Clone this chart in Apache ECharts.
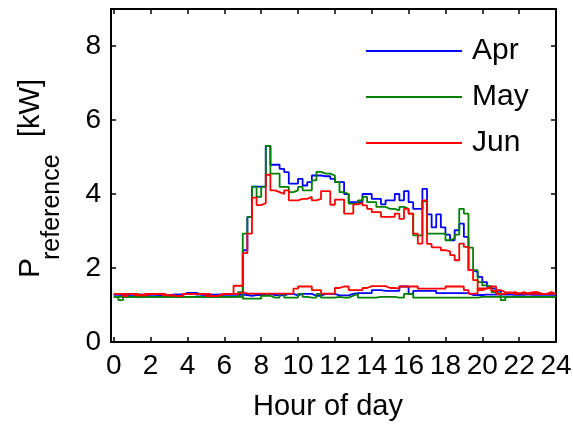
<!DOCTYPE html>
<html>
<head>
<meta charset="utf-8">
<script src="https://cdn.jsdelivr.net/npm/echarts@6/dist/echarts.min.js"></script>
<style>
html,body{margin:0;padding:0;background:#fff;}
#chart{width:573px;height:427px;}
</style>
</head>
<body>
<div id="chart"></div>
<script>
// Quarter-hour profiles (96 values, 00:00 .. 23:45), kW
const months = ['Apr', 'May', 'Jun'];
const xTicks = [0, 2, 4, 6, 8, 10, 12, 14, 16, 18, 20, 22, 24];
const yTicks = [0, 2, 4, 6, 8];

const aprHigh = [1.28,1.28,1.27,1.28,1.28,1.28,1.27,1.28, 1.28,1.28,1.26,1.26,1.28,1.28,1.28,1.33,
  1.33,1.28,1.28,1.27,1.27,1.28,1.28,1.28, 1.28,1.28,1.28,1.28,
  2.48,3.38,4.2,4.2, 4.2,5.3,4.79,4.79, 4.68,4.59,4.28,4.28, 4.41,4.23,4.32,4.5,
  4.5,4.48,4.48,4.41, 4.32,4.32,4.0,3.78, 3.78,3.78,4.0,4.0, 3.87,3.87,3.72,3.83,
  3.83,4.0,3.83,4.08, 3.78,3.6,3.6,4.14, 3.45,3.1,3.45,3.1, 2.9,2.75,3.02,3.2,
  2.84,1.94,1.89,1.76, 1.62,1.5,1.44,1.38, 1.3,1.3,1.28,1.28, 1.28,1.3,1.28,1.28,
  1.28,1.28,1.28,1.28];
const aprLow = [1.28,1.27,1.28,1.28,1.27,1.28,1.28,1.28, 1.28,1.27,1.28,1.26,1.28,1.28,1.28,1.3,
  1.33,1.33,1.28,1.28,1.28,1.27,1.28,1.28, 1.28,1.28,1.28,1.28,
  1.27,1.25,1.27,1.27, 1.3,1.3,1.27,1.26, 1.26,1.3,1.3,1.26, 1.3,1.3,1.3,1.25,
  1.25,1.3,1.3,1.3, 1.26,1.26,1.26,1.3, 1.32,1.32,1.32,1.32, 1.4,1.4,1.38,1.38,
  1.38,1.38,1.5,1.5, 1.3,1.38,1.38,1.38, 1.38,1.38,1.32,1.32, 1.32,1.32,1.32,1.32,
  1.32,1.27,1.27,1.27, 1.28,1.28,1.28,1.28, 1.28,1.28,1.28,1.28, 1.28,1.28,1.28,1.28,
  1.28,1.28,1.28,1.28];

const mayHigh = [1.22,1.13,1.22,1.22,1.22,1.22,1.22,1.22, 1.22,1.22,1.22,1.22,1.22,1.22,1.22,1.22,
  1.22,1.22,1.22,1.22,1.22,1.22,1.22,1.22, 1.22,1.22,1.22,1.22,
  2.93,3.38,4.2,3.92, 4.19,5.3,4.55,4.55, 4.19,4.19,4.05,4.1, 4.19,4.1,4.1,4.37,
  4.6,4.55,4.55,4.5, 4.32,4.05,4.0,3.74, 3.74,3.83,3.92,3.78, 3.78,3.65,3.65,3.6,
  3.6,3.56,3.65,3.6, 3.47,2.88,2.88,3.8, 2.93,2.93,2.93,2.93, 2.75,2.8,2.9,3.6,
  3.47,2.55,1.94,1.62, 1.53,1.49,1.35,1.3, 1.13,1.22,1.22,1.22, 1.22,1.22,1.22,1.22,
  1.22,1.22,1.22,1.22];
const mayLow = [1.22,1.22,1.22,1.22,1.22,1.22,1.22,1.22, 1.22,1.22,1.22,1.22,1.22,1.22,1.22,1.22,
  1.22,1.22,1.22,1.22,1.22,1.22,1.22,1.22, 1.22,1.22,1.22,1.35,
  1.17,1.17,1.17,1.17, 1.25,1.25,1.2,1.2, 1.3,1.2,1.2,1.2, 1.3,1.22,1.2,1.2,
  1.3,1.2,1.2,1.2, 1.22,1.2,1.2,1.25, 1.3,1.2,1.2,1.2, 1.2,1.22,1.22,1.22,
  1.22,1.2,1.2,1.3, 1.3,1.2,1.2,1.2, 1.2,1.2,1.2,1.2, 1.2,1.2,1.2,1.2,
  1.2,1.2,1.2,1.22, 1.22,1.22,1.22,1.22, 1.22,1.22,1.22,1.22, 1.22,1.22,1.22,1.22,
  1.22,1.22,1.22,1.22];

const junHigh = [1.3,1.3,1.24,1.3,1.3,1.26,1.26,1.3, 1.3,1.3,1.26,1.26,1.26,1.24,1.24,1.3,
  1.3,1.3,1.3,1.3,1.24,1.24,1.26,1.3, 1.3,1.3,1.52,1.52,
  2.4,2.93,3.9,3.7, 3.75,4.52,4.1,4.05, 4.0,4.1,3.83,3.83, 3.87,3.87,3.92,3.83,
  3.87,4.08,4.08,3.71, 3.85,3.85,3.47,3.47, 3.72,3.76,3.69,3.6, 3.51,3.51,3.38,3.38,
  3.38,3.47,3.33,3.6, 3.47,2.93,2.66,3.83, 2.65,2.56,2.56,2.48, 2.45,2.35,2.21,2.66,
  2.57,1.94,1.67,1.4, 1.45,1.5,1.5,1.4, 1.35,1.32,1.35,1.32, 1.3,1.32,1.35,1.35,
  1.3,1.3,1.3,1.3];
const junLow = [1.3,1.3,1.3,1.3,1.26,1.26,1.3,1.3, 1.3,1.3,1.3,1.26,1.26,1.24,1.24,1.3,
  1.3,1.3,1.3,1.3,1.3,1.24,1.26,1.3, 1.3,1.3,1.3,1.35,
  1.31,1.31,1.31,1.31, 1.31,1.31,1.31,1.31, 1.31,1.31,1.31,1.44, 1.5,1.5,1.5,1.4,
  1.4,1.31,1.31,1.31, 1.46,1.5,1.5,1.4, 1.4,1.4,1.46,1.51, 1.51,1.51,1.51,1.46,
  1.46,1.44,1.5,1.5, 1.5,1.5,1.44,1.44, 1.44,1.44,1.44,1.44, 1.5,1.5,1.5,1.5,
  1.4,1.31,1.31,1.45, 1.45,1.45,1.38,1.3, 1.3,1.35,1.3,1.3, 1.35,1.3,1.3,1.3,
  1.3,1.3,1.35,1.3];

const colors = {Apr: '#0000ff', May: '#008000', Jun: '#ff0000'};
const FONT = '"Liberation Sans", Arial, sans-serif';

function toSteps(arr) {
  const pts = arr.map((v, i) => [i / 4, v]);
  pts.push([24, arr[arr.length - 1]]);
  return pts;
}
function mk(name, arr) {
  return {
    name: name, type: 'line', step: 'end', symbol: 'none', showSymbol: false,
    data: toSteps(arr), animation: false,
    lineStyle: {color: colors[name], width: 1.8},
    itemStyle: {color: colors[name]}
  };
}

const chart = echarts.init(document.getElementById('chart'), null, {renderer: 'canvas'});
const axisLineStyle = {color: '#000', width: 2};
const tickStyle = {color: '#000', width: 1.5};
chart.setOption({
  backgroundColor: '#fff',
  animation: false,
  grid: {left: 111, right: 17, top: 9, bottom: 85, containLabel: false, outerBoundsMode: 'none'},
  legend: {
    data: months, orient: 'vertical', left: 366, top: 36, padding: 0,
    icon: 'rect', itemWidth: 96, itemHeight: 2, itemGap: 16,
    textStyle: {fontSize: 30, color: '#000', fontFamily: FONT, lineHeight: 30, padding: [0, 0, 0, 5]}
  },
  xAxis: [{
    type: 'value', position: 'bottom', min: -0.15, max: 24,
    axisLine: {show: true, onZero: false, lineStyle: axisLineStyle},
    axisTick: {show: true, inside: true, length: 5, customValues: xTicks, lineStyle: tickStyle},
    axisLabel: {show: true, customValues: xTicks, fontSize: 28, color: '#000', fontFamily: FONT, margin: 10},
    splitLine: {show: false},
    name: 'Hour of day', nameLocation: 'middle', nameGap: 50,
    nameTextStyle: {fontSize: 29, color: '#000', fontFamily: FONT, padding: [0, 11, 0, 0]}
  }, {
    type: 'value', position: 'top', min: -0.15, max: 24,
    axisLine: {show: true, onZero: false, lineStyle: axisLineStyle},
    axisTick: {show: true, inside: true, length: 5, customValues: xTicks, lineStyle: tickStyle},
    axisLabel: {show: false}, splitLine: {show: false}
  }],
  yAxis: [{
    type: 'value', position: 'left', min: 0, max: 9,
    axisLine: {show: true, onZero: false, lineStyle: axisLineStyle},
    axisTick: {show: true, inside: true, length: 5, customValues: yTicks, lineStyle: tickStyle},
    axisLabel: {show: true, customValues: yTicks, fontSize: 28, color: '#000', fontFamily: FONT, margin: 10},
    splitLine: {show: false}
  }, {
    type: 'value', position: 'right', min: 0, max: 9,
    axisLine: {show: true, onZero: false, lineStyle: axisLineStyle},
    axisTick: {show: true, inside: true, length: 5, customValues: yTicks, lineStyle: tickStyle},
    axisLabel: {show: false}, splitLine: {show: false}
  }],
  graphic: [
    {type: 'text', x: 31, y: 278, rotation: Math.PI / 2,
      style: {text: 'P', fontSize: 30, fontFamily: FONT, fill: '#000', align: 'left', verticalAlign: 'middle'}},
    {type: 'text', x: 52, y: 260, rotation: Math.PI / 2,
      style: {text: 'reference', fontSize: 25, fontFamily: FONT, fill: '#000', align: 'left', verticalAlign: 'middle'}},
    {type: 'text', x: 31, y: 137, rotation: Math.PI / 2,
      style: {text: '[kW]', fontSize: 29, fontFamily: FONT, fill: '#000', align: 'left', verticalAlign: 'middle'}}
  ],
  series: [
    mk('Apr', aprHigh), mk('Apr', aprLow),
    mk('May', mayHigh), mk('May', mayLow),
    mk('Jun', junHigh), mk('Jun', junLow)
  ]
});
</script>
</body>
</html>
